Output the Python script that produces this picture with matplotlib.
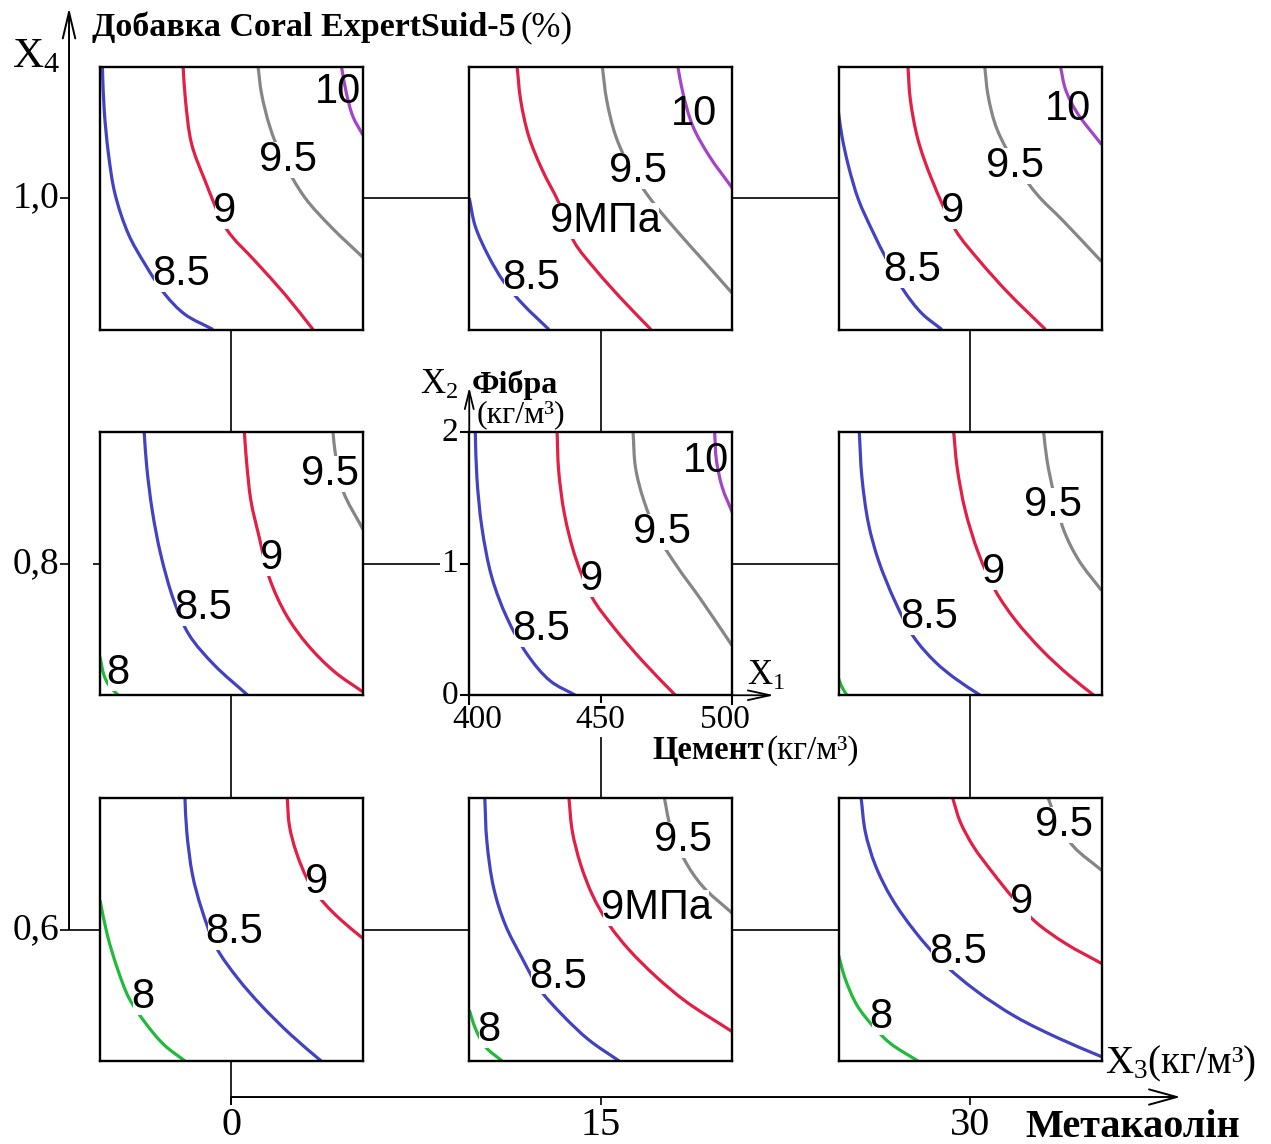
import matplotlib
matplotlib.use("Agg")
import matplotlib.pyplot as plt
from matplotlib import font_manager
from matplotlib.path import Path
from matplotlib.patches import PathPatch
import numpy as np

W, H, DPI = 1271, 1144, 100

# ---- design factors -------------------------------------------------------
metakaolin_levels = [0, 15, 30]        # X3, kg/m3 (panel columns)
additive_levels = [1.0, 0.8, 0.6]      # X4, % (panel rows)
cement_ticks = [400, 450, 500]         # X1, kg/m3
fibre_ticks = [0, 1, 2]                # X2, kg/m3

level_colors = {8.0: "#20bb3a", 8.5: "#4343c2", 9.0: "#e21f45",
                9.5: "#868686", 10.0: "#a344c9"}

# ---- isolines of compressive strength (MPa): {level: (cement, fibre)} -------
iso_m0_a10 = {
    8.5: ([400.9, 401.6, 403.2, 405.7, 410.8, 417.1, 424.7, 432.3, 443.0],
          [2.0, 1.669, 1.338, 1.032, 0.726, 0.497, 0.268, 0.115, 0.0]),
    9.0: ([431.6, 432.5, 434.8, 439.9, 448.1, 458.9, 470.3, 481.0],
          [2.0, 1.745, 1.414, 1.134, 0.764, 0.522, 0.268, 0.0]),
    9.5: ([460.1, 461.4, 464.6, 469.6, 477.8, 488.0, 500.0],
          [2.0, 1.796, 1.541, 1.287, 1.006, 0.777, 0.548]),
    10.0: ([491.8, 493.7, 496.2, 500.0], [2.0, 1.796, 1.618, 1.478]),
}
lab_m0_a10 = [("10", 490.5, 1.809), ("9.5", 471.5, 1.287),
              ("9", 447.2, 0.904), ("8.5", 430.8, 0.420)]

iso_m15_a10 = {
    8.5: ([400.0, 402.3, 407.4, 413.1, 420.7, 430.3],
          [1.0, 0.784, 0.555, 0.364, 0.186, 0.0]),
    9.0: ([418.2, 419.5, 422.6, 427.7, 434.1, 439.8, 448.1, 458.3, 469.1],
          [2.0, 1.751, 1.471, 1.216, 0.962, 0.669, 0.453, 0.224, 0.0]),
    9.5: ([450.6, 452.2, 455.7, 461.5, 469.1, 478.6, 488.8, 500.0],
          [2.0, 1.751, 1.471, 1.216, 0.987, 0.758, 0.529, 0.275]),
    10.0: ([479.3, 481.2, 485.0, 491.3, 500.0],
           [2.0, 1.802, 1.547, 1.318, 1.076]),
}
lab_m15_a10 = [("10", 485.6, 1.636), ("9.5", 464.0, 1.204),
               ("9МПа", 451.9, 0.827), ("8.5", 423.5, 0.389)]

iso_m30_a10 = {
    8.5: ([400.0, 401.3, 403.8, 407.6, 412.7, 418.4, 424.7, 431.7, 439.3],
          [1.649, 1.471, 1.242, 0.987, 0.758, 0.529, 0.300, 0.122, 0.0]),
    9.0: ([426.4, 427.3, 430.2, 435.5, 444.4, 453.3, 464.7, 478.7],
          [2.0, 1.751, 1.445, 1.140, 0.758, 0.529, 0.275, 0.0]),
    9.5: ([455.6, 456.9, 460.3, 468.5, 476.1, 485.0, 500.0],
          [2.0, 1.776, 1.522, 1.216, 1.013, 0.835, 0.517]),
    10.0: ([484.4, 486.3, 490.7, 500.0], [2.0, 1.827, 1.649, 1.407]),
}
lab_m30_a10 = [("10", 487.3, 1.674), ("9.5", 467.0, 1.242),
               ("9", 443.4, 0.898), ("8.5", 427.9, 0.453)]

iso_m0_a08 = {
    8.0: ([400.0, 401.5, 403.4, 406.9], [0.293, 0.153, 0.076, 0.0]),
    8.5: ([416.8, 417.8, 419.9, 423.1, 428.2, 433.9, 443.5, 456.2],
          [2.0, 1.732, 1.401, 1.070, 0.713, 0.459, 0.229, 0.0]),
    9.0: ([454.9, 455.7, 457.4, 460.6, 464.4, 470.8, 479.0, 489.2, 500.0],
          [2.0, 1.783, 1.478, 1.197, 0.892, 0.611, 0.382, 0.178, 0.025]),
    9.5: ([488.6, 489.5, 492.4, 500.0], [2.0, 1.834, 1.554, 1.261]),
}
lab_m0_a08 = [("9.5", 487.3, 1.682), ("9", 465.1, 1.045),
              ("8.5", 439.4, 0.662), ("8", 406.6, 0.166)]

iso_m15_a08 = {
    8.5: ([402.3, 402.9, 404.8, 408.6, 414.3, 422.0, 430.8, 440.4],
          [2.0, 1.657, 1.277, 0.896, 0.591, 0.312, 0.109, 0.0]),
    9.0: ([433.4, 434.0, 436.2, 440.4, 446.7, 455.0, 466.4, 478.4],
          [2.0, 1.708, 1.378, 1.048, 0.744, 0.515, 0.249, 0.0]),
    9.5: ([462.3, 463.2, 466.4, 472.1, 479.0, 488.0, 500.0],
          [2.0, 1.733, 1.480, 1.200, 0.980, 0.730, 0.376]),
    10.0: ([493.3, 494.0, 496.2, 500.0], [2.0, 1.784, 1.581, 1.391]),
}
lab_m15_a08 = [("10", 490.2, 1.784), ("9.5", 473.4, 1.239),
               ("9", 446.4, 0.883), ("8.5", 427.4, 0.503)]

iso_m30_a08 = {
    8.0: ([400.0, 401.3, 403.2], [0.127, 0.063, 0.0]),
    8.5: ([407.9, 408.9, 411.4, 415.2, 421.6, 428.6, 436.8, 444.4, 453.9],
          [2.0, 1.658, 1.304, 1.025, 0.709, 0.443, 0.253, 0.127, 0.0]),
    9.0: ([443.8, 445.1, 448.2, 453.3, 459.6, 467.3, 477.4, 487.6, 497.1],
          [2.0, 1.734, 1.405, 1.076, 0.797, 0.570, 0.342, 0.152, 0.0]),
    9.5: ([478.0, 479.3, 481.9, 485.7, 491.4, 500.0],
          [2.0, 1.785, 1.532, 1.253, 1.025, 0.797]),
}
lab_m30_a08 = [("9.5", 481.5, 1.443), ("9", 459.0, 0.937),
               ("8.5", 434.5, 0.595)]

iso_m0_a06 = {
    8.0: ([400.0, 402.8, 406.6, 411.1, 417.4, 424.4, 432.3],
          [1.223, 0.957, 0.704, 0.476, 0.286, 0.122, 0.0]),
    8.5: ([432.3, 433.0, 435.2, 438.6, 444.1, 452.4, 461.2, 472.7, 484.1],
          [2.0, 1.742, 1.413, 1.159, 0.868, 0.628, 0.425, 0.197, 0.0]),
    9.0: ([471.2, 472.0, 474.6, 479.7, 485.4, 491.7, 500.0],
          [2.0, 1.792, 1.590, 1.349, 1.197, 1.071, 0.932]),
}
lab_m0_a06 = [("9", 482.2, 1.362), ("8.5", 451.1, 0.982), ("8", 416.1, 0.489)]

iso_m15_a06 = {
    8.0: ([400.0, 402.3, 406.1, 412.5], [0.388, 0.249, 0.109, 0.0]),
    8.5: ([405.9, 406.7, 409.3, 413.7, 420.1, 426.5, 435.4, 445.5, 457.0],
          [2.0, 1.670, 1.315, 1.036, 0.782, 0.553, 0.350, 0.160, 0.0]),
    9.0: ([437.9, 439.2, 442.4, 446.8, 453.2, 460.8, 471.0, 482.4, 500.0],
          [2.0, 1.746, 1.492, 1.264, 1.036, 0.845, 0.642, 0.452, 0.223]),
    9.5: ([474.2, 476.3, 481.8, 488.8, 500.0],
          [2.0, 1.797, 1.531, 1.327, 1.124]),
}
lab_m15_a06 = [("9.5", 481.2, 1.683), ("9МПа", 471.0, 1.162),
               ("8.5", 433.8, 0.642), ("8", 407.4, 0.236)]

iso_m30_a06 = {
    8.0: ([400.0, 402.5, 407.0, 413.3, 419.7, 430.2],
          [0.805, 0.628, 0.425, 0.261, 0.134, 0.0]),
    8.5: ([408.6, 410.2, 414.0, 420.3, 429.2, 439.3, 452.0, 467.3, 483.8, 500.0],
          [2.0, 1.742, 1.489, 1.235, 0.982, 0.754, 0.539, 0.337, 0.172, 0.033]),
    9.0: ([443.4, 446.3, 451.4, 458.4, 466.6, 474.9, 486.3, 500.0],
          [2.0, 1.818, 1.628, 1.438, 1.235, 1.058, 0.894, 0.742]),
    9.5: ([479.7, 483.5, 489.5, 500.0], [2.0, 1.805, 1.628, 1.451]),
}
lab_m30_a06 = [("9.5", 485.7, 1.792), ("9", 469.5, 1.210),
               ("8.5", 445.4, 0.830), ("8", 416.2, 0.337)]

panels = [
    (0, 1.0, iso_m0_a10, lab_m0_a10),
    (15, 1.0, iso_m15_a10, lab_m15_a10),
    (30, 1.0, iso_m30_a10, lab_m30_a10),
    (0, 0.8, iso_m0_a08, lab_m0_a08),
    (15, 0.8, iso_m15_a08, lab_m15_a08),
    (30, 0.8, iso_m30_a08, lab_m30_a08),
    (0, 0.6, iso_m0_a06, lab_m0_a06),
    (15, 0.6, iso_m15_a06, lab_m15_a06),
    (30, 0.6, iso_m30_a06, lab_m30_a06),
]

# ---- fonts ----------------------------------------------------------------
_installed = {f.name for f in font_manager.fontManager.ttflist}
if "Liberation Sans Narrow" in _installed:
    LABEL_FONT, LABEL_SIZE = "Liberation Sans Narrow", 36
else:
    LABEL_FONT, LABEL_SIZE = "Liberation Sans", 30
SERIF = "Liberation Serif"

plt.rcParams.update({
    "font.family": SERIF,
    "mathtext.fontset": "custom",
    "mathtext.rm": SERIF,
    "mathtext.it": SERIF + ":italic",
    "mathtext.bf": SERIF + ":bold",
})


def smooth_path(xs, ys, span=((400.0, 100.0), (0.0, 2.0))):
    """Centripetal Catmull-Rom curve through the points, as Bezier segments."""
    p = np.column_stack([xs, ys]).astype(float)
    scale = np.array([span[0][1], span[1][1]])
    q = (p - np.array([span[0][0], span[1][0]])) / scale   # unit-square space
    ext = np.vstack([2 * q[0] - q[1], q, 2 * q[-1] - q[-2]])
    verts, codes = [q[0]], [Path.MOVETO]
    for i in range(len(q) - 1):
        p0, p1, p2, p3 = ext[i], ext[i + 1], ext[i + 2], ext[i + 3]
        d0 = np.linalg.norm(p1 - p0) ** 0.5
        d1 = np.linalg.norm(p2 - p1) ** 0.5
        d2 = np.linalg.norm(p3 - p2) ** 0.5
        m1 = ((p1 - p0) / d0 - (p2 - p0) / (d0 + d1) + (p2 - p1) / d1) * d1
        m2 = ((p2 - p1) / d1 - (p3 - p1) / (d1 + d2) + (p3 - p2) / d2) * d1
        verts += [p1 + m1 / 3.0, p2 - m2 / 3.0, p2]
        codes += [Path.CURVE4] * 3
    verts = np.array(verts) * scale + np.array([span[0][0], span[1][0]])
    return Path(verts, codes)


def fp(x, y):
    """Pixel position (from the top-left corner) to figure fraction."""
    return x / W, 1.0 - y / H


fig = plt.figure(figsize=(W / DPI, H / DPI), dpi=DPI)

# ---- background frame: X3 (metakaolin) across, X4 (additive) upwards -------
bg = fig.add_axes([0, 0, 1, 1])
bg.set_xlim(-9.404, 42.227)
bg.set_ylim(0.48271, 1.10827)
bg.axis("off")

X4_AXIS_X = -6.60      # position of the additive axis along X3
X4_AXIS_TOP = 1.104
X3_AXIS_Y = 0.5084     # position of the metakaolin axis along X4
X3_AXIS_END = 38.55
LINE_KW = dict(color="black", lw=1.2, solid_capstyle="butt")

# connectors between the panels
for a in additive_levels:
    bg.plot([metakaolin_levels[0], metakaolin_levels[-1]], [a, a], **LINE_KW)
for m in metakaolin_levels:
    bg.plot([m, m], [additive_levels[-1], additive_levels[0]], **LINE_KW)
bg.plot([X4_AXIS_X, metakaolin_levels[0]], [additive_levels[-1]] * 2, **LINE_KW)
bg.plot([metakaolin_levels[0]] * 2, [additive_levels[-1], X3_AXIS_Y - 0.0045],
        **LINE_KW)

# additive axis X4
bg.annotate("", xy=(X4_AXIS_X, X4_AXIS_TOP),
            xytext=(X4_AXIS_X, additive_levels[-1]),
            arrowprops=dict(arrowstyle="->,head_length=1.9,head_width=0.45",
                            lw=1.4, color="black", shrinkA=0, shrinkB=0,
                            mutation_scale=10))
for a in additive_levels:
    bg.plot([X4_AXIS_X - 0.37, X4_AXIS_X], [a, a], **LINE_KW)
    bg.annotate(f"{a:.1f}".replace(".", ","), xy=(X4_AXIS_X, a),
                xytext=(-7, 0), textcoords="offset points",
                ha="right", va="center", fontsize=27, family=SERIF)

# metakaolin axis X3
bg.annotate("", xy=(X3_AXIS_END, X3_AXIS_Y), xytext=(metakaolin_levels[0], X3_AXIS_Y),
            arrowprops=dict(arrowstyle="->,head_length=2.0,head_width=0.55",
                            lw=1.4, color="black", shrinkA=0, shrinkB=0,
                            mutation_scale=10))
for m in metakaolin_levels:
    bg.plot([m, m], [X3_AXIS_Y, X3_AXIS_Y - 0.0045], **LINE_KW)
    bg.annotate(str(m), xy=(m, X3_AXIS_Y), xytext=(0, -7),
                textcoords="offset points", ha="center", va="top",
                fontsize=29, family=SERIF)

# axis titles
fig.text(*fp(12, 67), r"$\mathrm{X}_4$", fontsize=31, va="baseline")
fig.text(*fp(92, 36), "Добавка Coral ExpertSuid-5", fontsize=24.5,
         fontweight="bold", va="baseline")
fig.text(*fp(520, 36), "(%)", fontsize=25, va="baseline")
fig.text(*fp(1105, 1073), r"$\mathrm{X}_3$(кг/м³)", fontsize=28, va="baseline")
fig.text(*fp(1025, 1137), "Метакаолін", fontsize=29, fontweight="bold",
         va="baseline")

# ---- the nine contour panels ----------------------------------------------
PANEL_PX = 263.0
for m, a, curves, labels in panels:
    cx, cy = bg.transData.transform((m, a))
    rect = [(cx - PANEL_PX / 2) / W, (cy - PANEL_PX / 2) / H,
            PANEL_PX / W, PANEL_PX / H]
    ax = fig.add_axes(rect)
    ax.set_facecolor("white")
    ax.set_xlim(cement_ticks[0], cement_ticks[-1])
    ax.set_ylim(fibre_ticks[0], fibre_ticks[-1])
    for sp in ax.spines.values():
        sp.set_linewidth(1.7)
    ax.set_xticks([])
    ax.set_yticks([])

    for level, (xs, ys) in curves.items():
        ax.add_patch(PathPatch(smooth_path(xs, ys), fill=False,
                               edgecolor=level_colors[level], lw=2.3,
                               capstyle="butt"))
    for text, x1, x2 in labels:
        kw = {}
        if not text.startswith("10"):
            kw["bbox"] = dict(boxstyle="square,pad=-0.05", fc="white", ec="none")
        ax.text(x1, x2, text, ha="center", va="center", fontsize=LABEL_SIZE,
                family=LABEL_FONT, color="black", zorder=5, clip_on=False, **kw)

    if (m, a) == (0, 0.8):
        ax.plot([-0.026, 0], [0.5, 0.5], transform=ax.transAxes,
                clip_on=False, **LINE_KW)

    if (m, a) == (15, 0.8):
        # central panel carries the cement / fibre scales
        ax.set_xticks(cement_ticks)
        ax.set_yticks(fibre_ticks)
        ax.set_xticklabels([])
        ax.set_yticklabels([])
        ax.tick_params(direction="out", length=7, width=1.5)
        shifts = {cement_ticks[0]: 6, cement_ticks[-1]: -5}
        for c in cement_ticks:
            box = (dict(boxstyle="square,pad=0.05", fc="white", ec="none")
                   if c == cement_ticks[1] else None)
            ax.annotate(str(c), xy=(c, fibre_ticks[0]),
                        xytext=(shifts.get(c, 0), -7), textcoords="offset points",
                        ha="center", va="top", fontsize=24, family=SERIF,
                        bbox=box, annotation_clip=False)
        for f in fibre_ticks:
            ax.annotate(str(f), xy=(cement_ticks[0], f), xytext=(-8, 0),
                        textcoords="offset points", ha="right", va="center",
                        fontsize=24, family=SERIF,
                        bbox=dict(boxstyle="square,pad=0.05", fc="white", ec="none"),
                        annotation_clip=False)
        ax.annotate("", xy=(0, 1 + 45 / PANEL_PX), xytext=(0, 1),
                    xycoords="axes fraction",
                    arrowprops=dict(arrowstyle="->,head_length=1.3,head_width=0.32",
                                    lw=1.3, color="black", shrinkA=0, shrinkB=0,
                                    mutation_scale=10))
        ax.annotate("", xy=(1 + 42 / PANEL_PX, 0), xytext=(1, 0),
                    xycoords="axes fraction",
                    arrowprops=dict(arrowstyle="->,head_length=1.6,head_width=0.35",
                                    lw=1.3, color="black", shrinkA=0, shrinkB=0,
                                    mutation_scale=10))

fig.text(*fp(420, 394), r"$\mathrm{X}_2$", fontsize=25, va="baseline")
fig.text(*fp(472, 393), "Фібра", fontsize=23, fontweight="bold", va="baseline")
fig.text(*fp(477, 422), "(кг/м³)", fontsize=23, va="baseline")
fig.text(*fp(747, 685), r"$\mathrm{X}_1$", fontsize=25, va="baseline")
fig.text(*fp(652, 759), "Цемент", fontsize=23.5, fontweight="bold", va="baseline")
fig.text(*fp(766, 759), "(кг/м³)", fontsize=24, va="baseline")

fig.savefig("out.png", dpi=DPI)
